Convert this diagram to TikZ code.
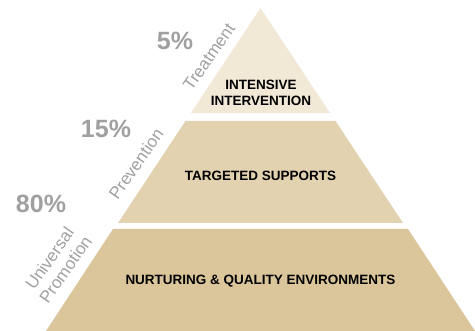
\documentclass[tikz,border=0pt]{standalone}
\usepackage{fontspec}
\setmainfont{Liberation Sans}
\definecolor{tierA}{HTML}{F1E8D6}
\definecolor{tierB}{HTML}{E3D2AF}
\definecolor{tierC}{HTML}{DBC59A}
\definecolor{labgray}{HTML}{A0A0A0}
\begin{document}
\begin{tikzpicture}[x=1pt,y=-1pt,
  tiertext/.style={font=\fontsize{13.5}{15.5}\selectfont\bfseries, text=black, align=center, inner sep=0pt},
  pct/.style={font=\fontsize{25}{28}\selectfont\bfseries, text=labgray, inner sep=0pt},
  side/.style={font=\fontsize{17}{19.5}\selectfont, text=labgray, rotate=55, align=center, inner sep=0pt}]
\useasboundingbox (0,0) rectangle (475,331);
\fill[tierA] (260.5,8) -- (330,113) -- (191,113) -- cycle;
\fill[tierB] (185.5,121) -- (335.5,121) -- (403,223) -- (118,223) -- cycle;
\fill[tierC] (113,229) -- (408,229) -- (475,331) -- (46,331) -- cycle;
\node[tiertext] (t1) at (261,93) {INTENSIVE\\INTERVENTION};
\node[tiertext] (t2) at (260.5,176) {TARGETED SUPPORTS};
\node[tiertext] (t3) at (260.5,281) {NURTURING \& QUALITY ENVIRONMENTS};
\node[pct] (p1) at (175,41) {5\%};
\node[pct] (p2) at (106,129) {15\%};
\node[pct] (p3) at (41,204) {80\%};
\node[side] (s1) at (209,57) {Treatment};
\node[side] (s2) at (136,164) {Prevention};
\node[side] (s3) at (57.5,264) {Universal\\Promotion};
\end{tikzpicture}
\end{document}
